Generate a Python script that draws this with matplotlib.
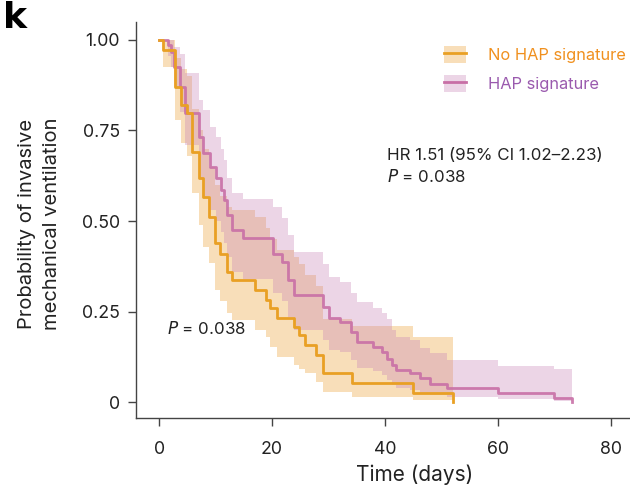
import matplotlib
matplotlib.use("Agg")
import matplotlib.pyplot as plt
from matplotlib.patches import Patch
from matplotlib.lines import Line2D

plt.rcParams['font.family'] = ['Inter', 'DejaVu Sans']

# No HAP signature (Kaplan-Meier steps)
orange_t = [0, 0.75, 2.8, 3.8, 4.9, 5.8, 7.0, 7.7, 8.9, 9.9, 10.8, 12.0, 12.9, 17.0, 19.0,
            19.6, 20.8, 23.8, 24.7, 25.8, 27.7, 29.0, 34.1, 45.0, 52.0]
orange_s = [1.0, 0.973, 0.87, 0.82, 0.797, 0.69, 0.62, 0.567, 0.512, 0.438, 0.41, 0.36, 0.337, 0.309, 0.282,
            0.26, 0.231, 0.208, 0.185, 0.157, 0.13, 0.079, 0.053, 0.026, 0.0]
orange_lo = [1.0, 0.925, 0.78, 0.715, 0.68, 0.577, 0.49, 0.429, 0.383, 0.31, 0.28, 0.245, 0.227, 0.2, 0.18,
             0.153, 0.125, 0.102, 0.09, 0.079, 0.056, 0.028, 0.015, 0.005, 0.0]
orange_hi = [1.0, 1.0, 0.95, 0.92, 0.90, 0.81, 0.75, 0.70, 0.65, 0.60, 0.57, 0.54, 0.53, 0.51, 0.48,
             0.45, 0.42, 0.40, 0.38, 0.35, 0.32, 0.23, 0.21, 0.18, 0.18]

# HAP signature
pink_t = [0, 1.5, 2.0, 2.6, 3.6, 4.6, 7.0, 7.8, 9.0, 10.1, 10.9, 11.5, 12.0, 12.9, 14.9, 20.2,
          21.7, 22.9, 23.8, 29.0, 30.0, 32.0, 34.0, 35.0, 37.9, 39.4, 40.3, 41.2, 42.0, 44.4,
          46.2, 48.0, 50.9, 60.0, 70.0, 73.2]
pink_s = [1.0, 0.985, 0.967, 0.926, 0.871, 0.797, 0.733, 0.687, 0.65, 0.618, 0.586, 0.558, 0.517, 0.475,
          0.452, 0.41, 0.388, 0.337, 0.296, 0.263, 0.231, 0.222, 0.194, 0.167, 0.153, 0.139, 0.12,
          0.102, 0.088, 0.079, 0.065, 0.051, 0.038, 0.024, 0.01, 0.0]
pink_hi = [1.0, 1.0, 1.0, 0.98, 0.96, 0.91, 0.834, 0.807, 0.76, 0.733, 0.70, 0.669, 0.62, 0.577, 0.56,
           0.54, 0.507, 0.46, 0.415, 0.38, 0.346, 0.332, 0.30, 0.277, 0.26, 0.245, 0.23, 0.20, 0.18,
           0.17, 0.15, 0.135, 0.116, 0.10, 0.09, 0.09]
pink_lo = [1.0, 0.955, 0.925, 0.87, 0.80, 0.71, 0.62, 0.57, 0.53, 0.50, 0.47, 0.44, 0.40, 0.36, 0.34,
           0.30, 0.28, 0.235, 0.20, 0.17, 0.145, 0.138, 0.115, 0.095, 0.085, 0.075, 0.06, 0.048, 0.04,
           0.034, 0.025, 0.02, 0.015, 0.008, 0.002, 0.002]

x_ticks = [0, 20, 40, 60, 80]
y_ticks = [0, 0.25, 0.5, 0.75, 1.0]
y_ticklabels = ['0', '0.25', '0.50', '0.75', '1.00']

c_or = '#E9A024'
c_pk = '#C86FA6'
f_or = '#EBA137'
f_pk = '#C987B8'
a_f = 0.35

fig = plt.figure(figsize=(6.3, 4.86), dpi=100)
ax = fig.add_axes([0.216, 0.140, 0.784, 0.815])

ax.fill_between(orange_t, orange_lo, orange_hi, step='post', color=f_or, alpha=a_f, lw=0, zorder=1)
ax.fill_between(pink_t, pink_lo, pink_hi, step='post', color=f_pk, alpha=a_f, lw=0, zorder=2)
ax.step(pink_t, pink_s, where='post', color=c_pk, lw=2.0, alpha=0.9, zorder=3)
ax.step(orange_t, orange_s, where='post', color=c_or, lw=2.0, zorder=4)

ax.set_xlim(-4.1, 83.4)
ax.set_ylim(-0.044, 1.05)
ax.set_xticks(x_ticks)
ax.set_yticks(y_ticks)
ax.set_yticklabels(y_ticklabels)
for s in ['top', 'right']:
    ax.spines[s].set_visible(False)
for s in ['left', 'bottom']:
    ax.spines[s].set_color('#444444')
    ax.spines[s].set_linewidth(1.0)
ax.tick_params(direction='out', length=5.5, width=1, color='#444444', labelsize=12.8,
               labelcolor='#222222', pad=6)
ax.tick_params(axis='x', pad=11)
ax.set_xlabel('Time (days)', fontsize=15, color='#222222')
ax.xaxis.set_label_coords(0.563, -0.118)
ax.set_ylabel('Probability of invasive\nmechanical ventilation', fontsize=14.5, color='#222222',
              linespacing=1.5)
ax.yaxis.set_label_coords(-0.152, 0.49)

h1 = (Patch(facecolor=f_or, alpha=a_f, lw=0), Line2D([], [], color=c_or, lw=2))
h2 = (Patch(facecolor=f_pk, alpha=a_f, lw=0), Line2D([], [], color=c_pk, lw=2))
leg = ax.legend([h1, h2], ['No HAP signature', 'HAP signature'], loc='upper left',
                bbox_to_anchor=(0.594, 0.976), frameon=False, fontsize=11.8,
                handlelength=1.35, handleheight=1.2, handletextpad=1.3, labelspacing=0.75,
                borderpad=0.4)
leg.get_texts()[0].set_color('#F0901E')
leg.get_texts()[1].set_color('#9A5AAE')

ax.text(40.4, 0.682, 'HR 1.51 (95% CI 1.02\u20132.23)', fontsize=12.2, color='#222222', va='center')
ax.text(40.4, 0.624, '$\\it{P}$ = 0.038', fontsize=12.2, color='#222222', va='center')
ax.text(1.3, 0.203, '$\\it{P}$ = 0.038', fontsize=12.2, color='#222222', va='center')

fig.text(0.004, 0.998, 'k', fontsize=26, fontweight='bold', family='DejaVu Sans', va='top', ha='left')

fig.savefig('out.png', dpi=100)
